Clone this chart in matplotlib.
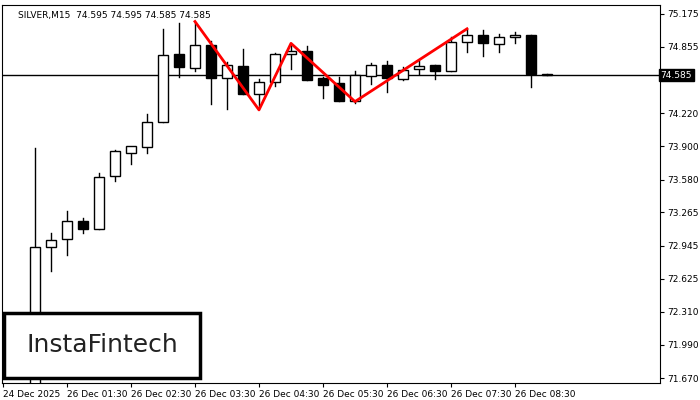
import numpy as np
import matplotlib.pyplot as plt
from matplotlib.patches import Rectangle

opens  = [71.46, 72.93, 73.01, 73.18, 73.10, 73.61, 73.84, 73.89, 74.13, 74.79, 74.65,
          74.87, 74.56, 74.67, 74.40, 74.52, 74.79, 74.82, 74.56, 74.51, 74.34, 74.58,
          74.68, 74.55, 74.64, 74.68, 74.62, 74.90, 74.97, 74.88, 74.95, 74.97, 74.595]
highs  = [73.88, 73.07, 73.28, 73.21, 73.64, 73.86, 73.89, 74.21, 75.03, 75.09, 75.09,
          74.91, 74.71, 74.84, 74.55, 74.80, 74.87, 74.86, 74.57, 74.57, 74.62, 74.70,
          74.72, 74.66, 74.72, 74.68, 74.95, 75.02, 75.02, 74.98, 75.00, 74.97, 74.595]
lows   = [71.46, 72.70, 72.85, 73.07, 73.10, 73.57, 73.73, 73.84, 74.13, 74.57, 74.62,
          74.31, 74.26, 74.40, 74.27, 74.48, 74.64, 74.54, 74.36, 74.34, 74.32, 74.50,
          74.42, 74.54, 74.60, 74.55, 74.62, 74.81, 74.77, 74.81, 74.89, 74.47, 74.585]
closes = [72.93, 73.00, 73.18, 73.10, 73.60, 73.85, 73.90, 74.13, 74.78, 74.66, 74.87,
          74.56, 74.68, 74.40, 74.52, 74.79, 74.82, 74.54, 74.49, 74.34, 74.59, 74.68,
          74.56, 74.63, 74.67, 74.62, 74.90, 74.97, 74.89, 74.95, 74.97, 74.60, 74.585]

pattern_idx = [10, 14, 16, 20, 27]
pattern_px = [75.10, 74.25, 74.89, 74.33, 75.03]

yticks = [75.175, 74.855, 74.220, 73.900, 73.580, 73.265, 72.945, 72.625, 72.310, 71.990, 71.670]
xtick_idx = [-2, 2, 6, 10, 14, 18, 22, 26, 30]
xtick_labels = ["24 Dec 2025", "26 Dec 01:30", "26 Dec 02:30", "26 Dec 03:30", "26 Dec 04:30",
                "26 Dec 05:30", "26 Dec 06:30", "26 Dec 07:30", "26 Dec 08:30"]
last_price = 74.585

fig = plt.figure(figsize=(7, 4), dpi=100)
ax = fig.add_axes([2/700, 17/400, 658/700, 378/400])
ax.set_xlim(-2.06, 39.06)
ax.set_ylim(71.623, 75.259)

w = 0.6
for i in range(len(opens)):
    o, h, l, c = opens[i], highs[i], lows[i], closes[i]
    ax.plot([i, i], [l, h], color='black', lw=1, zorder=2)
    bottom = min(o, c)
    height = max(abs(c - o), 0.005)
    face = 'white' if c >= o else 'black'
    ax.add_patch(Rectangle((i - w/2, bottom), w, height, facecolor=face,
                           edgecolor='black', lw=1, zorder=3))

ax.axhline(last_price, color='black', lw=1, zorder=1)
ax.plot(pattern_idx, pattern_px, color='red', lw=2, zorder=4)

ax.yaxis.tick_right()
ax.set_yticks(yticks)
ax.set_yticklabels([f"{v:.3f}" for v in yticks], fontsize=6.5)
ax.set_xticks(xtick_idx)
ax.set_xticklabels(xtick_labels, fontsize=6.5, ha='left')
ax.tick_params(length=3, pad=2)

ax.text(1.001, (last_price - 71.623) / (75.259 - 71.623), f"{last_price:.3f}",
        transform=ax.transAxes, va='center', ha='left', fontsize=6.5, color='white',
        bbox=dict(boxstyle='square,pad=0.2', fc='black', ec='black'))

ax.text(0.025, 0.985, "SILVER,M15  74.595 74.595 74.585 74.585", transform=ax.transAxes,
        va='top', ha='left', fontsize=6.5)

fig.patches.append(Rectangle((4/700, 22/400), 196/700, 65/400, transform=fig.transFigure,
                             facecolor='white', edgecolor='black', lw=2.5, zorder=10))
fig.text(102/700, 55/400, "InstaFintech", fontsize=18, va='center', ha='center',
         color='#222222', zorder=11)

fig.savefig("out.png")
